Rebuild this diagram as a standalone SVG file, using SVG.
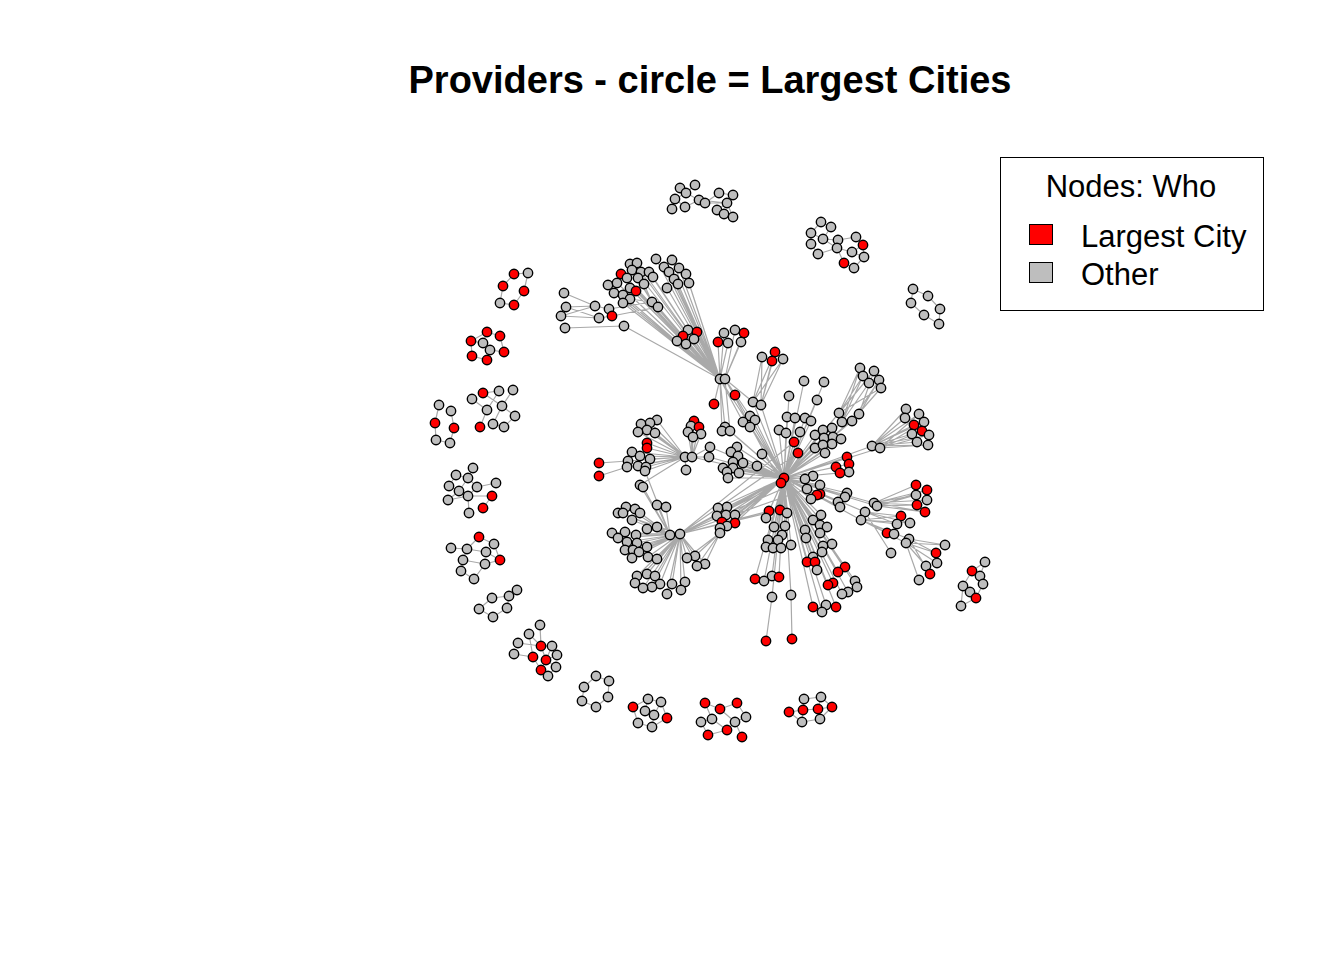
<svg xmlns="http://www.w3.org/2000/svg" width="1344" height="960" viewBox="0 0 1344 960">
<style>
.e{stroke:#a9a9a9;stroke-width:1.2;fill:none}
.g circle,.r circle{stroke:#000;stroke-width:1.4}
.g circle{fill:#bebebe}
.r circle{fill:#ff0000}
.t{font-family:"Liberation Sans",Arial,sans-serif;fill:#000}
</style>
<rect width="1344" height="960" fill="#fff"/>
<text class="t" x="710" y="93" font-size="38" font-weight="bold" text-anchor="middle">Providers - circle = Largest Cities</text>
<g id="connectors">
<path class="e" d="M514 274L528 273M514 274L503 286M528 273L524 291M503 286L500 303M524 291L514 305M500 303L514 305
M487 332L471 341M487 332L500 336M487 332L483 343M500 336L504 352M483 343L490 350M471 341L472 356M490 350L504 352M490 350L487 360M472 356L487 360M483 343L471 341
M439 405L435 423M435 423L436 440M436 440L450 443M450 443L454 428M454 428L451 411
M472 399L487 410M483 393L502 406M499 391L487 410M513 390L502 406M502 406L515 416M487 410L480 427M502 406L493 424M493 424L504 427M515 416L504 427M483 393L499 391
M473 468L468 478M456 475L468 478M456 475L449 486M468 478L459 491M468 478L477 487M449 486L459 491M459 491L468 496M477 487L496 483M477 487L468 496M468 496L492 496M468 496L448 500M468 496L469 513M492 496L483 508M459 491L448 500
M479 537L467 549M479 537L494 544M451 548L467 549M467 549L486 552M486 552L500 560M494 544L500 560M467 549L463 560M463 560L485 564M485 564L500 560M463 560L461 571M461 571L474 579M485 564L474 579
M517 590L509 596M509 596L492 598M492 598L479 609M509 596L507 608M507 608L493 617M479 609L493 617
M540 625L541 646M529 634L533 657M518 643L541 646M514 654L533 657M541 646L546 660M541 646L552 646M552 646L546 660M546 660L557 655M546 660L556 667M533 657L541 670M541 670L548 676M546 660L541 670M556 667L548 676M529 634L541 646
M596 676L609 681M596 676L584 687M609 681L608 697M584 687L582 701M608 697L596 707M582 701L596 707
M648 699L633 707M648 699L661 702M648 699L645 711M661 702L654 715M661 702L667 718M633 707L638 723M645 711L654 715M667 718L652 727M638 723L652 727M654 715L652 727
M705 703L720 709M720 709L737 703M705 703L712 719M720 709L735 722M737 703L746 717M712 719L701 722M712 719L727 730M735 722L727 730M735 722L742 737M746 717L735 722M701 722L708 735M727 730L708 735
M804 699L803 710M804 699L821 697M789 712L803 710M803 710L818 709M818 709L832 707M821 697L832 707M789 712L802 722M802 722L820 719M820 719L832 707M803 710L802 722M821 697L818 709
M985 562L980 576M985 562L972 571M972 571L980 576M972 571L963 586M980 576L983 584M963 586L970 592M970 592L976 598M983 584L976 598M976 598L961 606M963 586L961 606
M913 289L928 296M913 289L911 303M928 296L940 309M911 303L924 315M940 309L939 324M924 315L939 324
M680 188L686 193M695 185L686 193M686 193L675 199M675 199L672 209M675 199L685 207M686 193L699 200M699 200L705 203M705 203L719 193M699 200L727 203M705 203L727 203M719 193L733 195M733 195L727 203M727 203L717 210M717 210L724 214M724 214L733 217M727 203L733 217M685 207L699 200
M821 222L831 227M821 222L811 233M831 227L823 239M811 233L823 239M823 239L838 240M811 233L811 244M811 244L818 254M823 239L837 248M838 240L837 248M838 240L856 237M856 237L863 245M863 245L852 252M837 248L852 252M852 252L864 257M837 248L844 263M844 263L854 268M864 257L854 268M818 254L837 248M863 245L864 257"/>
<path class="e" d="M564 293L595 306M566 307L595 306M566 307L599 318M561 316L599 318M561 316L595 306M565 328L624 326M595 306L609 309M609 309L612 316M599 318L612 316M612 316L658 307M609 309L652 302M624 326L720 379
M632 270L652 302M638 278L652 302M644 284L652 302M630 299L652 302
M720 379L621 274M720 379L630 264M720 379L637 263M720 379L641 272M720 379L649 272M720 379L627 278M720 379L653 277M720 379L636 291M720 379L630 288M720 379L623 295M720 379L623 303M720 379L656 259M720 379L672 260M720 379L664 267M720 379L679 268M720 379L669 272M720 379L686 274M720 379L674 279M720 379L689 283M720 379L678 284M720 379L667 288M720 379L652 302M720 379L658 307M720 379L608 285M720 379L617 283M720 379L614 293M720 379L683 336M720 379L697 332M720 379L688 330M720 379L677 341M720 379L686 344M720 379L694 339M720 379L718 342M720 379L724 333M720 379L728 343M720 379L725 379M720 379L714 404M720 379L725 427M720 379L722 431M720 379L743 422M720 379L784 478
M725 379L735 330M725 379L744 333M725 379L741 342M725 379L735 395M725 379L753 402M725 379L730 431M725 379L784 478M725 379L750 416M725 379L781 483
M762 357L753 402M775 352L753 402M772 361L761 405M783 359L761 405M762 357L761 405M783 359L753 402M775 352L761 405
M784 478L804 381M784 478L789 396M784 478L817 400M784 478L824 382M784 478L753 402M784 478L761 405M784 478L750 416M784 478L755 420M784 478L750 427M784 478L787 417M784 478L795 418M784 478L805 418M784 478L811 421M784 478L779 430M784 478L786 433M784 478L800 432M784 478L815 435M784 478L794 442M784 478L798 453M784 478L815 448M784 478L762 454M784 478L757 466M784 478L710 447M784 478L709 457M784 478L737 447M784 478L731 452M784 478L738 456M784 478L733 462M784 478L743 463M784 478L723 468M784 478L733 468M784 478L728 478M784 478L739 473M784 478L727 472M784 478L832 428M784 478L823 430M784 478L824 438M784 478L833 437M784 478L841 439M784 478L832 444M784 478L823 445M784 478L825 453M784 478L847 457M784 478L849 464M784 478L836 467M784 478L840 473M784 478L849 472M784 478L839 413M784 478L859 414M784 478L842 422M784 478L852 421M784 478L872 446M784 478L880 448M784 478L805 479M784 478L813 476M784 478L807 489M784 478L817 495M784 478L811 499M784 478L820 485M784 478L820 494M784 478L847 493M784 478L845 497M784 478L838 502M784 478L840 507M784 478L874 503M784 478L877 506M784 478L865 512M784 478L861 520M784 478L769 511M784 478L780 510M784 478L787 513M784 478L766 518M784 478L774 527M784 478L785 526M784 478L782 535M784 478L768 540M784 478L778 540M784 478L766 547M784 478L773 548M784 478L781 548M784 478L791 545M784 478L755 579M784 478L764 581M784 478L772 576M784 478L779 577M784 478L772 597M784 478L791 595M784 478L813 520M784 478L805 530M784 478L806 538M784 478L821 515M784 478L820 525M784 478L827 527M784 478L820 533M784 478L832 544M784 478L823 546M784 478L822 552M784 478L807 562M784 478L815 562M784 478L813 557M784 478L817 570M784 478L845 567M784 478L838 572M784 478L855 581M784 478L857 587M784 478L833 583M784 478L828 585M784 478L848 592M784 478L842 594M784 478L826 605M784 478L836 607M784 478L822 612M784 478L813 607M784 478L718 508M784 478L727 507M784 478L717 516M784 478L726 515M784 478L735 515M784 478L722 522M784 478L735 523M784 478L720 528M784 478L727 526M784 478L720 533M784 478L692 457M784 478L680 534M784 478L725 427M784 478L730 431
M680 534L636 535M680 534L627 542M680 534L637 543M680 534L647 547M680 534L625 550M680 534L633 550M680 534L639 552M680 534L648 557M680 534L657 559M680 534L632 558M680 534L618 513M680 534L612 533M680 534L618 538M680 534L647 529M680 534L657 527M680 534L637 576M680 534L647 574M680 534L655 576M680 534L643 588M680 534L652 587M680 534L660 584M680 534L635 583M680 534L672 584M680 534L685 582M680 534L681 590M680 534L667 594M680 534L687 558M680 534L695 556M680 534L705 564M680 534L697 566M680 534L670 535M680 534L781 483M680 534L805 479M680 534L807 489M680 534L769 511M680 534L780 510M680 534L798 453M680 534L794 442
M670 535L640 485M670 535L643 487M670 535L645 471M670 535L657 505M670 535L666 507M670 535L626 507M670 535L635 509M670 535L623 513M670 535L640 513M670 535L632 520M670 535L647 529M670 535L657 527M670 535L625 532M670 535L636 535
M687 558L720 533M695 556L720 533M705 564L720 533M697 566L720 533
M685 457L657 420M685 457L650 423M685 457L641 424M685 457L647 430M685 457L638 432M685 457L655 433M685 457L647 443M685 457L647 448M685 457L632 452M685 457L640 456M685 457L650 459M685 457L628 461M685 457L638 466M685 457L646 467M685 457L627 467M685 457L686 470M685 457L645 471M685 457L640 485M685 457L692 457
M692 457L694 421M692 457L699 427M692 457L691 426M692 457L688 432M692 457L701 434M692 457L693 437M692 457L710 447M692 457L709 457
M599 463L628 461M599 476L627 467
M860 368L839 413M874 371L839 413M863 376L842 422M879 380L852 421M869 383L842 422M881 388L852 421M860 368L842 422M881 388L839 413M863 376L839 413M879 380L859 414M874 371L859 414
M872 446L906 409M872 446L919 414M872 446L905 418M872 446L924 422M872 446L914 425M872 446L922 431M872 446L912 434M872 446L929 435M872 446L917 442M872 446L928 445M880 448L919 414M880 448L924 422M880 448L922 431M880 448L929 435M880 448L928 445
M874 503L916 485M874 503L927 490M874 503L916 495M874 503L927 500M874 503L917 505M874 503L925 512M877 506L916 495M877 506L917 505M877 506L925 512M877 506L927 490
M901 516L865 512M897 524L865 512M910 523L865 512M887 533L861 520M894 534L861 520M891 553L865 512M909 539L861 520M906 543L861 520M901 516L861 520M910 523L861 520M897 524L861 520
M945 545L906 543M936 553L906 543M937 563L906 543M926 566L906 543M930 574L909 539M919 580L906 543M945 545L909 539M936 553L909 539
M772 597L766 641M791 595L792 639"/>
</g>
<g id="nodes">
<g id="p1" class="r"><circle cx="514" cy="274" r="4.7"/></g>
<g id="p2" class="g"><circle cx="528" cy="273" r="4.7"/></g>
<g id="p3" class="r"><circle cx="503" cy="286" r="4.7"/></g>
<g id="p4" class="r"><circle cx="524" cy="291" r="4.7"/></g>
<g id="p5" class="g"><circle cx="500" cy="303" r="4.7"/></g>
<g id="p6" class="r"><circle cx="514" cy="305" r="4.7"/></g>
<g id="q1" class="r"><circle cx="487" cy="332" r="4.7"/></g>
<g id="q2" class="r"><circle cx="500" cy="336" r="4.7"/></g>
<g id="q3" class="r"><circle cx="471" cy="341" r="4.7"/></g>
<g id="q4" class="g"><circle cx="483" cy="343" r="4.7"/></g>
<g id="q5" class="g"><circle cx="490" cy="350" r="4.7"/></g>
<g id="q6" class="r"><circle cx="504" cy="352" r="4.7"/></g>
<g id="q7" class="r"><circle cx="472" cy="356" r="4.7"/></g>
<g id="q8" class="r"><circle cx="487" cy="360" r="4.7"/></g>
<g id="c1" class="g"><circle cx="439" cy="405" r="4.7"/></g>
<g id="c2" class="g"><circle cx="451" cy="411" r="4.7"/></g>
<g id="c3" class="r"><circle cx="435" cy="423" r="4.7"/></g>
<g id="c4" class="r"><circle cx="454" cy="428" r="4.7"/></g>
<g id="c5" class="g"><circle cx="436" cy="440" r="4.7"/></g>
<g id="c6" class="g"><circle cx="450" cy="443" r="4.7"/></g>
<g id="b1" class="r"><circle cx="483" cy="393" r="4.7"/></g>
<g id="b2" class="g"><circle cx="499" cy="391" r="4.7"/></g>
<g id="b3" class="g"><circle cx="513" cy="390" r="4.7"/></g>
<g id="b4" class="g"><circle cx="472" cy="399" r="4.7"/></g>
<g id="b5" class="g"><circle cx="487" cy="410" r="4.7"/></g>
<g id="b6" class="g"><circle cx="502" cy="406" r="4.7"/></g>
<g id="b7" class="g"><circle cx="515" cy="416" r="4.7"/></g>
<g id="b8" class="r"><circle cx="480" cy="427" r="4.7"/></g>
<g id="b9" class="g"><circle cx="493" cy="424" r="4.7"/></g>
<g id="b10" class="g"><circle cx="504" cy="427" r="4.7"/></g>
<g id="d0" class="g"><circle cx="473" cy="468" r="4.7"/></g>
<g id="d1" class="g"><circle cx="456" cy="475" r="4.7"/></g>
<g id="d2" class="g"><circle cx="468" cy="478" r="4.7"/></g>
<g id="d3" class="g"><circle cx="449" cy="486" r="4.7"/></g>
<g id="d4" class="g"><circle cx="459" cy="491" r="4.7"/></g>
<g id="d5" class="g"><circle cx="477" cy="487" r="4.7"/></g>
<g id="d6" class="g"><circle cx="496" cy="483" r="4.7"/></g>
<g id="d7" class="g"><circle cx="468" cy="496" r="4.7"/></g>
<g id="d8" class="r"><circle cx="492" cy="496" r="4.7"/></g>
<g id="d9" class="g"><circle cx="448" cy="500" r="4.7"/></g>
<g id="d10" class="r"><circle cx="483" cy="508" r="4.7"/></g>
<g id="d11" class="g"><circle cx="469" cy="513" r="4.7"/></g>
<g id="e1" class="r"><circle cx="479" cy="537" r="4.7"/></g>
<g id="e2" class="g"><circle cx="451" cy="548" r="4.7"/></g>
<g id="e3" class="g"><circle cx="467" cy="549" r="4.7"/></g>
<g id="e4" class="g"><circle cx="494" cy="544" r="4.7"/></g>
<g id="e5" class="g"><circle cx="486" cy="552" r="4.7"/></g>
<g id="e6" class="r"><circle cx="500" cy="560" r="4.7"/></g>
<g id="e7" class="g"><circle cx="463" cy="560" r="4.7"/></g>
<g id="e8" class="g"><circle cx="485" cy="564" r="4.7"/></g>
<g id="e9" class="g"><circle cx="461" cy="571" r="4.7"/></g>
<g id="e10" class="g"><circle cx="474" cy="579" r="4.7"/></g>
<g id="f1" class="g"><circle cx="517" cy="590" r="4.7"/></g>
<g id="f2" class="g"><circle cx="509" cy="596" r="4.7"/></g>
<g id="f3" class="g"><circle cx="492" cy="598" r="4.7"/></g>
<g id="f4" class="g"><circle cx="507" cy="608" r="4.7"/></g>
<g id="f5" class="g"><circle cx="479" cy="609" r="4.7"/></g>
<g id="f6" class="g"><circle cx="493" cy="617" r="4.7"/></g>
<g id="g1" class="g"><circle cx="540" cy="625" r="4.7"/></g>
<g id="g2" class="g"><circle cx="529" cy="634" r="4.7"/></g>
<g id="g3" class="g"><circle cx="518" cy="643" r="4.7"/></g>
<g id="g4" class="r"><circle cx="541" cy="646" r="4.7"/></g>
<g id="g5" class="g"><circle cx="552" cy="646" r="4.7"/></g>
<g id="g6" class="g"><circle cx="514" cy="654" r="4.7"/></g>
<g id="g7" class="r"><circle cx="533" cy="657" r="4.7"/></g>
<g id="g8" class="r"><circle cx="546" cy="660" r="4.7"/></g>
<g id="g9" class="g"><circle cx="557" cy="655" r="4.7"/></g>
<g id="g10" class="g"><circle cx="556" cy="667" r="4.7"/></g>
<g id="g11" class="r"><circle cx="541" cy="670" r="4.7"/></g>
<g id="g12" class="g"><circle cx="548" cy="676" r="4.7"/></g>
<g id="h1" class="g"><circle cx="596" cy="676" r="4.7"/></g>
<g id="h2" class="g"><circle cx="609" cy="681" r="4.7"/></g>
<g id="h3" class="g"><circle cx="584" cy="687" r="4.7"/></g>
<g id="h4" class="g"><circle cx="608" cy="697" r="4.7"/></g>
<g id="h5" class="g"><circle cx="582" cy="701" r="4.7"/></g>
<g id="h6" class="g"><circle cx="596" cy="707" r="4.7"/></g>
<g id="i1" class="g"><circle cx="648" cy="699" r="4.7"/></g>
<g id="i2" class="g"><circle cx="661" cy="702" r="4.7"/></g>
<g id="i3" class="r"><circle cx="633" cy="707" r="4.7"/></g>
<g id="i4" class="g"><circle cx="645" cy="711" r="4.7"/></g>
<g id="i5" class="g"><circle cx="654" cy="715" r="4.7"/></g>
<g id="i6" class="r"><circle cx="667" cy="718" r="4.7"/></g>
<g id="i7" class="g"><circle cx="638" cy="723" r="4.7"/></g>
<g id="i8" class="g"><circle cx="652" cy="727" r="4.7"/></g>
<g id="j1" class="r"><circle cx="705" cy="703" r="4.7"/></g>
<g id="j2" class="r"><circle cx="737" cy="703" r="4.7"/></g>
<g id="j3" class="r"><circle cx="720" cy="709" r="4.7"/></g>
<g id="j4" class="g"><circle cx="746" cy="717" r="4.7"/></g>
<g id="j5" class="g"><circle cx="712" cy="719" r="4.7"/></g>
<g id="j6" class="g"><circle cx="701" cy="722" r="4.7"/></g>
<g id="j7" class="g"><circle cx="735" cy="722" r="4.7"/></g>
<g id="j8" class="r"><circle cx="727" cy="730" r="4.7"/></g>
<g id="j9" class="r"><circle cx="708" cy="735" r="4.7"/></g>
<g id="j10" class="r"><circle cx="742" cy="737" r="4.7"/></g>
<g id="k1" class="g"><circle cx="804" cy="699" r="4.7"/></g>
<g id="k2" class="g"><circle cx="821" cy="697" r="4.7"/></g>
<g id="k3" class="r"><circle cx="789" cy="712" r="4.7"/></g>
<g id="k4" class="r"><circle cx="803" cy="710" r="4.7"/></g>
<g id="k5" class="r"><circle cx="818" cy="709" r="4.7"/></g>
<g id="k6" class="r"><circle cx="832" cy="707" r="4.7"/></g>
<g id="k7" class="g"><circle cx="802" cy="722" r="4.7"/></g>
<g id="k8" class="g"><circle cx="820" cy="719" r="4.7"/></g>
<g id="l1" class="g"><circle cx="985" cy="562" r="4.7"/></g>
<g id="l2" class="r"><circle cx="972" cy="571" r="4.7"/></g>
<g id="l3" class="g"><circle cx="980" cy="576" r="4.7"/></g>
<g id="l4" class="g"><circle cx="983" cy="584" r="4.7"/></g>
<g id="l5" class="g"><circle cx="963" cy="586" r="4.7"/></g>
<g id="l6" class="g"><circle cx="970" cy="592" r="4.7"/></g>
<g id="l7" class="r"><circle cx="976" cy="598" r="4.7"/></g>
<g id="l8" class="g"><circle cx="961" cy="606" r="4.7"/></g>
<g id="m1" class="g"><circle cx="913" cy="289" r="4.7"/></g>
<g id="m2" class="g"><circle cx="928" cy="296" r="4.7"/></g>
<g id="m3" class="g"><circle cx="911" cy="303" r="4.7"/></g>
<g id="m4" class="g"><circle cx="940" cy="309" r="4.7"/></g>
<g id="m5" class="g"><circle cx="924" cy="315" r="4.7"/></g>
<g id="m6" class="g"><circle cx="939" cy="324" r="4.7"/></g>
<g id="n1" class="g"><circle cx="680" cy="188" r="4.7"/></g>
<g id="n2" class="g"><circle cx="695" cy="185" r="4.7"/></g>
<g id="n3" class="g"><circle cx="686" cy="193" r="4.7"/></g>
<g id="n4" class="g"><circle cx="675" cy="199" r="4.7"/></g>
<g id="n5" class="g"><circle cx="672" cy="209" r="4.7"/></g>
<g id="n6" class="g"><circle cx="685" cy="207" r="4.7"/></g>
<g id="n7" class="g"><circle cx="699" cy="200" r="4.7"/></g>
<g id="n8" class="g"><circle cx="705" cy="203" r="4.7"/></g>
<g id="n9" class="g"><circle cx="719" cy="193" r="4.7"/></g>
<g id="n10" class="g"><circle cx="733" cy="195" r="4.7"/></g>
<g id="n11" class="g"><circle cx="727" cy="203" r="4.7"/></g>
<g id="n12" class="g"><circle cx="717" cy="210" r="4.7"/></g>
<g id="n13" class="g"><circle cx="724" cy="214" r="4.7"/></g>
<g id="n14" class="g"><circle cx="733" cy="217" r="4.7"/></g>
<g id="o1" class="g"><circle cx="821" cy="222" r="4.7"/></g>
<g id="o2" class="g"><circle cx="831" cy="227" r="4.7"/></g>
<g id="o3" class="g"><circle cx="811" cy="233" r="4.7"/></g>
<g id="o4" class="g"><circle cx="823" cy="239" r="4.7"/></g>
<g id="o5" class="g"><circle cx="838" cy="240" r="4.7"/></g>
<g id="o6" class="g"><circle cx="811" cy="244" r="4.7"/></g>
<g id="o7" class="g"><circle cx="818" cy="254" r="4.7"/></g>
<g id="o8" class="g"><circle cx="837" cy="248" r="4.7"/></g>
<g id="o9" class="g"><circle cx="856" cy="237" r="4.7"/></g>
<g id="o10" class="r"><circle cx="863" cy="245" r="4.7"/></g>
<g id="o11" class="g"><circle cx="852" cy="252" r="4.7"/></g>
<g id="o12" class="g"><circle cx="864" cy="257" r="4.7"/></g>
<g id="o13" class="r"><circle cx="844" cy="263" r="4.7"/></g>
<g id="o14" class="g"><circle cx="854" cy="268" r="4.7"/></g>
<g id="s1" class="g"><circle cx="564" cy="293" r="4.7"/></g>
<g id="s2" class="g"><circle cx="566" cy="307" r="4.7"/></g>
<g id="s3" class="g"><circle cx="561" cy="316" r="4.7"/></g>
<g id="s4" class="g"><circle cx="565" cy="328" r="4.7"/></g>
<g id="s5" class="g"><circle cx="595" cy="306" r="4.7"/></g>
<g id="s6" class="g"><circle cx="599" cy="318" r="4.7"/></g>
<g id="sa" class="g"><circle cx="609" cy="309" r="4.7"/></g>
<g id="s7" class="r"><circle cx="612" cy="316" r="4.7"/></g>
<g id="s8" class="g"><circle cx="624" cy="326" r="4.7"/></g>
<g id="t28" class="g"><circle cx="608" cy="285" r="4.7"/></g>
<g id="t29" class="g"><circle cx="617" cy="283" r="4.7"/></g>
<g id="t30" class="g"><circle cx="614" cy="293" r="4.7"/></g>
<g id="t1" class="r"><circle cx="621" cy="274" r="4.7"/></g>
<g id="t2" class="g"><circle cx="630" cy="264" r="4.7"/></g>
<g id="t3" class="g"><circle cx="637" cy="263" r="4.7"/></g>
<g id="t4" class="g"><circle cx="632" cy="270" r="4.7"/></g>
<g id="t5" class="g"><circle cx="641" cy="272" r="4.7"/></g>
<g id="t6" class="g"><circle cx="649" cy="272" r="4.7"/></g>
<g id="t7" class="g"><circle cx="638" cy="278" r="4.7"/></g>
<g id="t8" class="g"><circle cx="627" cy="278" r="4.7"/></g>
<g id="t9" class="g"><circle cx="653" cy="277" r="4.7"/></g>
<g id="t10" class="g"><circle cx="644" cy="284" r="4.7"/></g>
<g id="t12" class="g"><circle cx="630" cy="288" r="4.7"/></g>
<g id="t11" class="r"><circle cx="636" cy="291" r="4.7"/></g>
<g id="t13" class="g"><circle cx="623" cy="295" r="4.7"/></g>
<g id="t14" class="g"><circle cx="630" cy="299" r="4.7"/></g>
<g id="t15" class="g"><circle cx="623" cy="303" r="4.7"/></g>
<g id="t16" class="g"><circle cx="656" cy="259" r="4.7"/></g>
<g id="t17" class="g"><circle cx="672" cy="260" r="4.7"/></g>
<g id="t18" class="g"><circle cx="664" cy="267" r="4.7"/></g>
<g id="t19" class="g"><circle cx="679" cy="268" r="4.7"/></g>
<g id="t20" class="g"><circle cx="669" cy="272" r="4.7"/></g>
<g id="t21" class="g"><circle cx="686" cy="274" r="4.7"/></g>
<g id="t22" class="g"><circle cx="674" cy="279" r="4.7"/></g>
<g id="t23" class="g"><circle cx="689" cy="283" r="4.7"/></g>
<g id="t24" class="g"><circle cx="678" cy="284" r="4.7"/></g>
<g id="t25" class="g"><circle cx="667" cy="288" r="4.7"/></g>
<g id="t26" class="g"><circle cx="652" cy="302" r="4.7"/></g>
<g id="t27" class="g"><circle cx="658" cy="307" r="4.7"/></g>
<g id="u3" class="g"><circle cx="688" cy="330" r="4.7"/></g>
<g id="u1" class="r"><circle cx="683" cy="336" r="4.7"/></g>
<g id="u2" class="r"><circle cx="697" cy="332" r="4.7"/></g>
<g id="u4" class="g"><circle cx="677" cy="341" r="4.7"/></g>
<g id="u5" class="g"><circle cx="686" cy="344" r="4.7"/></g>
<g id="u6" class="g"><circle cx="694" cy="339" r="4.7"/></g>
<g id="v2" class="g"><circle cx="724" cy="333" r="4.7"/></g>
<g id="v3" class="g"><circle cx="735" cy="330" r="4.7"/></g>
<g id="v1" class="r"><circle cx="718" cy="342" r="4.7"/></g>
<g id="v4" class="r"><circle cx="744" cy="333" r="4.7"/></g>
<g id="v5" class="g"><circle cx="728" cy="343" r="4.7"/></g>
<g id="v6" class="g"><circle cx="741" cy="342" r="4.7"/></g>
<g id="w1" class="g"><circle cx="762" cy="357" r="4.7"/></g>
<g id="w2" class="r"><circle cx="775" cy="352" r="4.7"/></g>
<g id="w3" class="r"><circle cx="772" cy="361" r="4.7"/></g>
<g id="w4" class="g"><circle cx="783" cy="359" r="4.7"/></g>
<g id="x1" class="g"><circle cx="720" cy="379" r="4.7"/></g>
<g id="x2" class="g"><circle cx="725" cy="379" r="4.7"/></g>
<g id="r1" class="r"><circle cx="735" cy="395" r="4.7"/></g>
<g id="r2" class="r"><circle cx="714" cy="404" r="4.7"/></g>
<g id="y1" class="g"><circle cx="753" cy="402" r="4.7"/></g>
<g id="y2" class="g"><circle cx="761" cy="405" r="4.7"/></g>
<g id="z1" class="g"><circle cx="804" cy="381" r="4.7"/></g>
<g id="z2" class="g"><circle cx="789" cy="396" r="4.7"/></g>
<g id="z3" class="g"><circle cx="817" cy="400" r="4.7"/></g>
<g id="z4" class="g"><circle cx="824" cy="382" r="4.7"/></g>
<g id="a1" class="g"><circle cx="750" cy="416" r="4.7"/></g>
<g id="a2" class="g"><circle cx="755" cy="420" r="4.7"/></g>
<g id="a3" class="g"><circle cx="743" cy="422" r="4.7"/></g>
<g id="a4" class="g"><circle cx="750" cy="427" r="4.7"/></g>
<g id="a5" class="g"><circle cx="787" cy="417" r="4.7"/></g>
<g id="a6" class="g"><circle cx="795" cy="418" r="4.7"/></g>
<g id="a7" class="g"><circle cx="805" cy="418" r="4.7"/></g>
<g id="a8" class="g"><circle cx="811" cy="421" r="4.7"/></g>
<g id="a9" class="g"><circle cx="779" cy="430" r="4.7"/></g>
<g id="a10" class="g"><circle cx="786" cy="433" r="4.7"/></g>
<g id="a11" class="g"><circle cx="800" cy="432" r="4.7"/></g>
<g id="a12" class="g"><circle cx="815" cy="435" r="4.7"/></g>
<g id="a13" class="r"><circle cx="794" cy="442" r="4.7"/></g>
<g id="a15" class="g"><circle cx="815" cy="448" r="4.7"/></g>
<g id="a14" class="r"><circle cx="798" cy="453" r="4.7"/></g>
<g id="a16" class="g"><circle cx="762" cy="454" r="4.7"/></g>
<g id="a17" class="g"><circle cx="757" cy="466" r="4.7"/></g>
<g id="a18" class="g"><circle cx="725" cy="427" r="4.7"/></g>
<g id="a19" class="g"><circle cx="722" cy="431" r="4.7"/></g>
<g id="a20" class="g"><circle cx="730" cy="431" r="4.7"/></g>
<g id="a21" class="g"><circle cx="710" cy="447" r="4.7"/></g>
<g id="a22" class="g"><circle cx="709" cy="457" r="4.7"/></g>
<g id="a23" class="g"><circle cx="737" cy="447" r="4.7"/></g>
<g id="a24" class="g"><circle cx="731" cy="452" r="4.7"/></g>
<g id="a25" class="g"><circle cx="738" cy="456" r="4.7"/></g>
<g id="a26" class="g"><circle cx="733" cy="462" r="4.7"/></g>
<g id="a27" class="g"><circle cx="743" cy="463" r="4.7"/></g>
<g id="a28" class="g"><circle cx="723" cy="468" r="4.7"/></g>
<g id="a29" class="g"><circle cx="733" cy="468" r="4.7"/></g>
<g id="a30" class="r"><circle cx="694" cy="421" r="4.7"/></g>
<g id="a32" class="g"><circle cx="691" cy="426" r="4.7"/></g>
<g id="a31" class="r"><circle cx="699" cy="427" r="4.7"/></g>
<g id="a33" class="g"><circle cx="688" cy="432" r="4.7"/></g>
<g id="a34" class="g"><circle cx="701" cy="434" r="4.7"/></g>
<g id="a35" class="g"><circle cx="693" cy="437" r="4.7"/></g>
<g id="ll1" class="g"><circle cx="657" cy="420" r="4.7"/></g>
<g id="ll2" class="g"><circle cx="650" cy="423" r="4.7"/></g>
<g id="ll3" class="g"><circle cx="641" cy="424" r="4.7"/></g>
<g id="ll4" class="g"><circle cx="647" cy="430" r="4.7"/></g>
<g id="ll5" class="g"><circle cx="638" cy="432" r="4.7"/></g>
<g id="ll6" class="g"><circle cx="655" cy="433" r="4.7"/></g>
<g id="ll7" class="r"><circle cx="647" cy="443" r="4.7"/></g>
<g id="ll8" class="r"><circle cx="647" cy="448" r="4.7"/></g>
<g id="ll9" class="g"><circle cx="632" cy="452" r="4.7"/></g>
<g id="ll10" class="g"><circle cx="640" cy="456" r="4.7"/></g>
<g id="ll11" class="g"><circle cx="650" cy="459" r="4.7"/></g>
<g id="ll12" class="g"><circle cx="628" cy="461" r="4.7"/></g>
<g id="ll13" class="g"><circle cx="638" cy="466" r="4.7"/></g>
<g id="ll14" class="g"><circle cx="646" cy="467" r="4.7"/></g>
<g id="ll15" class="g"><circle cx="627" cy="467" r="4.7"/></g>
<g id="rr1" class="r"><circle cx="599" cy="463" r="4.7"/></g>
<g id="rr2" class="r"><circle cx="599" cy="476" r="4.7"/></g>
<g id="h2a" class="g"><circle cx="685" cy="457" r="4.7"/></g>
<g id="h2b" class="g"><circle cx="692" cy="457" r="4.7"/></g>
<g id="h2c" class="g"><circle cx="686" cy="470" r="4.7"/></g>
<g id="ru1" class="g"><circle cx="860" cy="368" r="4.7"/></g>
<g id="ru2" class="g"><circle cx="874" cy="371" r="4.7"/></g>
<g id="ru3" class="g"><circle cx="863" cy="376" r="4.7"/></g>
<g id="ru4" class="g"><circle cx="879" cy="380" r="4.7"/></g>
<g id="ru5" class="g"><circle cx="869" cy="383" r="4.7"/></g>
<g id="ru6" class="g"><circle cx="881" cy="388" r="4.7"/></g>
<g id="rm2" class="g"><circle cx="839" cy="413" r="4.7"/></g>
<g id="rm3" class="g"><circle cx="859" cy="414" r="4.7"/></g>
<g id="rm4" class="g"><circle cx="842" cy="422" r="4.7"/></g>
<g id="rm5" class="g"><circle cx="852" cy="421" r="4.7"/></g>
<g id="cm1" class="g"><circle cx="832" cy="428" r="4.7"/></g>
<g id="cm2" class="g"><circle cx="823" cy="430" r="4.7"/></g>
<g id="cm3" class="g"><circle cx="824" cy="438" r="4.7"/></g>
<g id="cm4" class="g"><circle cx="833" cy="437" r="4.7"/></g>
<g id="cm5" class="g"><circle cx="841" cy="439" r="4.7"/></g>
<g id="cm6" class="g"><circle cx="832" cy="444" r="4.7"/></g>
<g id="cm7" class="g"><circle cx="823" cy="445" r="4.7"/></g>
<g id="cm8" class="g"><circle cx="825" cy="453" r="4.7"/></g>
<g id="cr1" class="r"><circle cx="847" cy="457" r="4.7"/></g>
<g id="cr2" class="r"><circle cx="849" cy="464" r="4.7"/></g>
<g id="cr3" class="r"><circle cx="836" cy="467" r="4.7"/></g>
<g id="cr5" class="g"><circle cx="849" cy="472" r="4.7"/></g>
<g id="cr4" class="r"><circle cx="840" cy="473" r="4.7"/></g>
<g id="rl1" class="g"><circle cx="872" cy="446" r="4.7"/></g>
<g id="rl2" class="g"><circle cx="880" cy="448" r="4.7"/></g>
<g id="rc1" class="g"><circle cx="906" cy="409" r="4.7"/></g>
<g id="rc2" class="g"><circle cx="919" cy="414" r="4.7"/></g>
<g id="rc3" class="g"><circle cx="905" cy="418" r="4.7"/></g>
<g id="rc4" class="g"><circle cx="924" cy="422" r="4.7"/></g>
<g id="rc5" class="r"><circle cx="914" cy="425" r="4.7"/></g>
<g id="rc6" class="r"><circle cx="922" cy="431" r="4.7"/></g>
<g id="rc7" class="g"><circle cx="912" cy="434" r="4.7"/></g>
<g id="rc8" class="g"><circle cx="929" cy="435" r="4.7"/></g>
<g id="rc9" class="g"><circle cx="917" cy="442" r="4.7"/></g>
<g id="rc10" class="g"><circle cx="928" cy="445" r="4.7"/></g>
<g id="lh3" class="g"><circle cx="727" cy="472" r="4.7"/></g>
<g id="lh1" class="g"><circle cx="728" cy="478" r="4.7"/></g>
<g id="lh2" class="g"><circle cx="739" cy="473" r="4.7"/></g>
<g id="hb2" class="r"><circle cx="784" cy="478" r="4.7"/></g>
<g id="hb1" class="r"><circle cx="781" cy="483" r="4.7"/></g>
<g id="nr2" class="g"><circle cx="813" cy="476" r="4.7"/></g>
<g id="nr1" class="g"><circle cx="805" cy="479" r="4.7"/></g>
<g id="nr6" class="g"><circle cx="820" cy="485" r="4.7"/></g>
<g id="nr3" class="g"><circle cx="807" cy="489" r="4.7"/></g>
<g id="nr7" class="r"><circle cx="820" cy="494" r="4.7"/></g>
<g id="nr4" class="r"><circle cx="817" cy="495" r="4.7"/></g>
<g id="nr5" class="g"><circle cx="811" cy="499" r="4.7"/></g>
<g id="nr8" class="g"><circle cx="847" cy="493" r="4.7"/></g>
<g id="nr9" class="g"><circle cx="845" cy="497" r="4.7"/></g>
<g id="nr10" class="g"><circle cx="838" cy="502" r="4.7"/></g>
<g id="nr11" class="g"><circle cx="840" cy="507" r="4.7"/></g>
<g id="rr3" class="g"><circle cx="874" cy="503" r="4.7"/></g>
<g id="rr4" class="g"><circle cx="877" cy="506" r="4.7"/></g>
<g id="rr5" class="g"><circle cx="865" cy="512" r="4.7"/></g>
<g id="rr6" class="g"><circle cx="861" cy="520" r="4.7"/></g>
<g id="rd1" class="r"><circle cx="916" cy="485" r="4.7"/></g>
<g id="rd2" class="r"><circle cx="927" cy="490" r="4.7"/></g>
<g id="rd3" class="g"><circle cx="916" cy="495" r="4.7"/></g>
<g id="rd4" class="g"><circle cx="927" cy="500" r="4.7"/></g>
<g id="rd5" class="r"><circle cx="917" cy="505" r="4.7"/></g>
<g id="rd6" class="r"><circle cx="925" cy="512" r="4.7"/></g>
<g id="re1" class="r"><circle cx="901" cy="516" r="4.7"/></g>
<g id="re2" class="g"><circle cx="897" cy="524" r="4.7"/></g>
<g id="re3" class="g"><circle cx="910" cy="523" r="4.7"/></g>
<g id="re4" class="r"><circle cx="887" cy="533" r="4.7"/></g>
<g id="re5" class="g"><circle cx="894" cy="534" r="4.7"/></g>
<g id="re6" class="g"><circle cx="891" cy="553" r="4.7"/></g>
<g id="re7" class="g"><circle cx="909" cy="539" r="4.7"/></g>
<g id="re8" class="g"><circle cx="906" cy="543" r="4.7"/></g>
<g id="rf1" class="g"><circle cx="945" cy="545" r="4.7"/></g>
<g id="rf2" class="r"><circle cx="936" cy="553" r="4.7"/></g>
<g id="rf3" class="g"><circle cx="937" cy="563" r="4.7"/></g>
<g id="rf4" class="g"><circle cx="926" cy="566" r="4.7"/></g>
<g id="rf5" class="r"><circle cx="930" cy="574" r="4.7"/></g>
<g id="rf6" class="g"><circle cx="919" cy="580" r="4.7"/></g>
<g id="lc2" class="g"><circle cx="727" cy="507" r="4.7"/></g>
<g id="lc1" class="g"><circle cx="718" cy="508" r="4.7"/></g>
<g id="lc4" class="g"><circle cx="726" cy="515" r="4.7"/></g>
<g id="lc5" class="g"><circle cx="735" cy="515" r="4.7"/></g>
<g id="lc3" class="g"><circle cx="717" cy="516" r="4.7"/></g>
<g id="lc6" class="r"><circle cx="722" cy="522" r="4.7"/></g>
<g id="lc7" class="r"><circle cx="735" cy="523" r="4.7"/></g>
<g id="lc9" class="g"><circle cx="727" cy="526" r="4.7"/></g>
<g id="lc8" class="g"><circle cx="720" cy="528" r="4.7"/></g>
<g id="lc10" class="g"><circle cx="720" cy="533" r="4.7"/></g>
<g id="dn1" class="r"><circle cx="769" cy="511" r="4.7"/></g>
<g id="dn2" class="r"><circle cx="780" cy="510" r="4.7"/></g>
<g id="dn3" class="g"><circle cx="787" cy="513" r="4.7"/></g>
<g id="dn4" class="g"><circle cx="766" cy="518" r="4.7"/></g>
<g id="dn5" class="g"><circle cx="774" cy="527" r="4.7"/></g>
<g id="dn6" class="g"><circle cx="785" cy="526" r="4.7"/></g>
<g id="dn7" class="g"><circle cx="782" cy="535" r="4.7"/></g>
<g id="dn8" class="g"><circle cx="768" cy="540" r="4.7"/></g>
<g id="dn9" class="g"><circle cx="778" cy="540" r="4.7"/></g>
<g id="dn13" class="g"><circle cx="791" cy="545" r="4.7"/></g>
<g id="dn10" class="g"><circle cx="766" cy="547" r="4.7"/></g>
<g id="dn11" class="g"><circle cx="773" cy="548" r="4.7"/></g>
<g id="dn12" class="g"><circle cx="781" cy="548" r="4.7"/></g>
<g id="dl3" class="g"><circle cx="772" cy="576" r="4.7"/></g>
<g id="dl1" class="r"><circle cx="755" cy="579" r="4.7"/></g>
<g id="dl2" class="g"><circle cx="764" cy="581" r="4.7"/></g>
<g id="dl4" class="r"><circle cx="779" cy="577" r="4.7"/></g>
<g id="dd1" class="g"><circle cx="772" cy="597" r="4.7"/></g>
<g id="dd2" class="g"><circle cx="791" cy="595" r="4.7"/></g>
<g id="dd3" class="r"><circle cx="766" cy="641" r="4.7"/></g>
<g id="dd4" class="r"><circle cx="792" cy="639" r="4.7"/></g>
<g id="dr4" class="g"><circle cx="821" cy="515" r="4.7"/></g>
<g id="dr1" class="g"><circle cx="813" cy="520" r="4.7"/></g>
<g id="dr5" class="g"><circle cx="820" cy="525" r="4.7"/></g>
<g id="dr6" class="g"><circle cx="827" cy="527" r="4.7"/></g>
<g id="dr2" class="g"><circle cx="805" cy="530" r="4.7"/></g>
<g id="dr7" class="g"><circle cx="820" cy="533" r="4.7"/></g>
<g id="dr3" class="g"><circle cx="806" cy="538" r="4.7"/></g>
<g id="dr8" class="g"><circle cx="832" cy="544" r="4.7"/></g>
<g id="dr9" class="g"><circle cx="823" cy="546" r="4.7"/></g>
<g id="dr10" class="g"><circle cx="822" cy="552" r="4.7"/></g>
<g id="dr13" class="g"><circle cx="813" cy="557" r="4.7"/></g>
<g id="dr11" class="r"><circle cx="807" cy="562" r="4.7"/></g>
<g id="dr12" class="r"><circle cx="815" cy="562" r="4.7"/></g>
<g id="dr14" class="g"><circle cx="817" cy="570" r="4.7"/></g>
<g id="dr15" class="r"><circle cx="845" cy="567" r="4.7"/></g>
<g id="dr16" class="r"><circle cx="838" cy="572" r="4.7"/></g>
<g id="dr17" class="g"><circle cx="855" cy="581" r="4.7"/></g>
<g id="dr18" class="g"><circle cx="857" cy="587" r="4.7"/></g>
<g id="dr19" class="r"><circle cx="833" cy="583" r="4.7"/></g>
<g id="dr20" class="r"><circle cx="828" cy="585" r="4.7"/></g>
<g id="dr21" class="g"><circle cx="848" cy="592" r="4.7"/></g>
<g id="dr22" class="g"><circle cx="842" cy="594" r="4.7"/></g>
<g id="dr23" class="g"><circle cx="826" cy="605" r="4.7"/></g>
<g id="dr24" class="r"><circle cx="836" cy="607" r="4.7"/></g>
<g id="dr26" class="r"><circle cx="813" cy="607" r="4.7"/></g>
<g id="dr25" class="g"><circle cx="822" cy="612" r="4.7"/></g>
<g id="lb3" class="g"><circle cx="645" cy="471" r="4.7"/></g>
<g id="lb1" class="g"><circle cx="640" cy="485" r="4.7"/></g>
<g id="lb2" class="g"><circle cx="643" cy="487" r="4.7"/></g>
<g id="lb4" class="g"><circle cx="657" cy="505" r="4.7"/></g>
<g id="lb5" class="g"><circle cx="666" cy="507" r="4.7"/></g>
<g id="lb6" class="g"><circle cx="626" cy="507" r="4.7"/></g>
<g id="lb7" class="g"><circle cx="635" cy="509" r="4.7"/></g>
<g id="lb24" class="g"><circle cx="618" cy="513" r="4.7"/></g>
<g id="lb8" class="g"><circle cx="623" cy="513" r="4.7"/></g>
<g id="lb9" class="g"><circle cx="640" cy="513" r="4.7"/></g>
<g id="lb10" class="g"><circle cx="632" cy="520" r="4.7"/></g>
<g id="lb12" class="g"><circle cx="657" cy="527" r="4.7"/></g>
<g id="lb11" class="g"><circle cx="647" cy="529" r="4.7"/></g>
<g id="lb13" class="g"><circle cx="625" cy="532" r="4.7"/></g>
<g id="lb25" class="g"><circle cx="612" cy="533" r="4.7"/></g>
<g id="lb14" class="g"><circle cx="636" cy="535" r="4.7"/></g>
<g id="lb26" class="g"><circle cx="618" cy="538" r="4.7"/></g>
<g id="lb15" class="g"><circle cx="627" cy="542" r="4.7"/></g>
<g id="lb16" class="g"><circle cx="637" cy="543" r="4.7"/></g>
<g id="lb17" class="g"><circle cx="647" cy="547" r="4.7"/></g>
<g id="lb18" class="g"><circle cx="625" cy="550" r="4.7"/></g>
<g id="lb19" class="g"><circle cx="633" cy="550" r="4.7"/></g>
<g id="lb20" class="g"><circle cx="639" cy="552" r="4.7"/></g>
<g id="lb21" class="g"><circle cx="648" cy="557" r="4.7"/></g>
<g id="lb23" class="g"><circle cx="632" cy="558" r="4.7"/></g>
<g id="lb22" class="g"><circle cx="657" cy="559" r="4.7"/></g>
<g id="h3b" class="g"><circle cx="670" cy="535" r="4.7"/></g>
<g id="h3a" class="g"><circle cx="680" cy="534" r="4.7"/></g>
<g id="hn2" class="g"><circle cx="695" cy="556" r="4.7"/></g>
<g id="hn1" class="g"><circle cx="687" cy="558" r="4.7"/></g>
<g id="hn3" class="g"><circle cx="705" cy="564" r="4.7"/></g>
<g id="hn4" class="g"><circle cx="697" cy="566" r="4.7"/></g>
<g id="ld2" class="g"><circle cx="647" cy="574" r="4.7"/></g>
<g id="ld1" class="g"><circle cx="637" cy="576" r="4.7"/></g>
<g id="ld3" class="g"><circle cx="655" cy="576" r="4.7"/></g>
<g id="ld9" class="g"><circle cx="685" cy="582" r="4.7"/></g>
<g id="ld7" class="g"><circle cx="635" cy="583" r="4.7"/></g>
<g id="ld6" class="g"><circle cx="660" cy="584" r="4.7"/></g>
<g id="ld8" class="g"><circle cx="672" cy="584" r="4.7"/></g>
<g id="ld5" class="g"><circle cx="652" cy="587" r="4.7"/></g>
<g id="ld4" class="g"><circle cx="643" cy="588" r="4.7"/></g>
<g id="ld10" class="g"><circle cx="681" cy="590" r="4.7"/></g>
<g id="ld11" class="g"><circle cx="667" cy="594" r="4.7"/></g>
</g>
<g id="legend">
<rect x="1000.5" y="157.5" width="263" height="153" fill="#fff" stroke="#000" stroke-width="1"/>
<text class="t" x="1131" y="197" font-size="31" text-anchor="middle">Nodes: Who</text>
<rect x="1029.5" y="224.5" width="23" height="20" fill="#ff0000" stroke="#000" stroke-width="1"/>
<text class="t" x="1081" y="247" font-size="31">Largest City</text>
<rect x="1029.5" y="262.5" width="23" height="20" fill="#bebebe" stroke="#000" stroke-width="1"/>
<text class="t" x="1081" y="285" font-size="31">Other</text>
</g>
</svg>
